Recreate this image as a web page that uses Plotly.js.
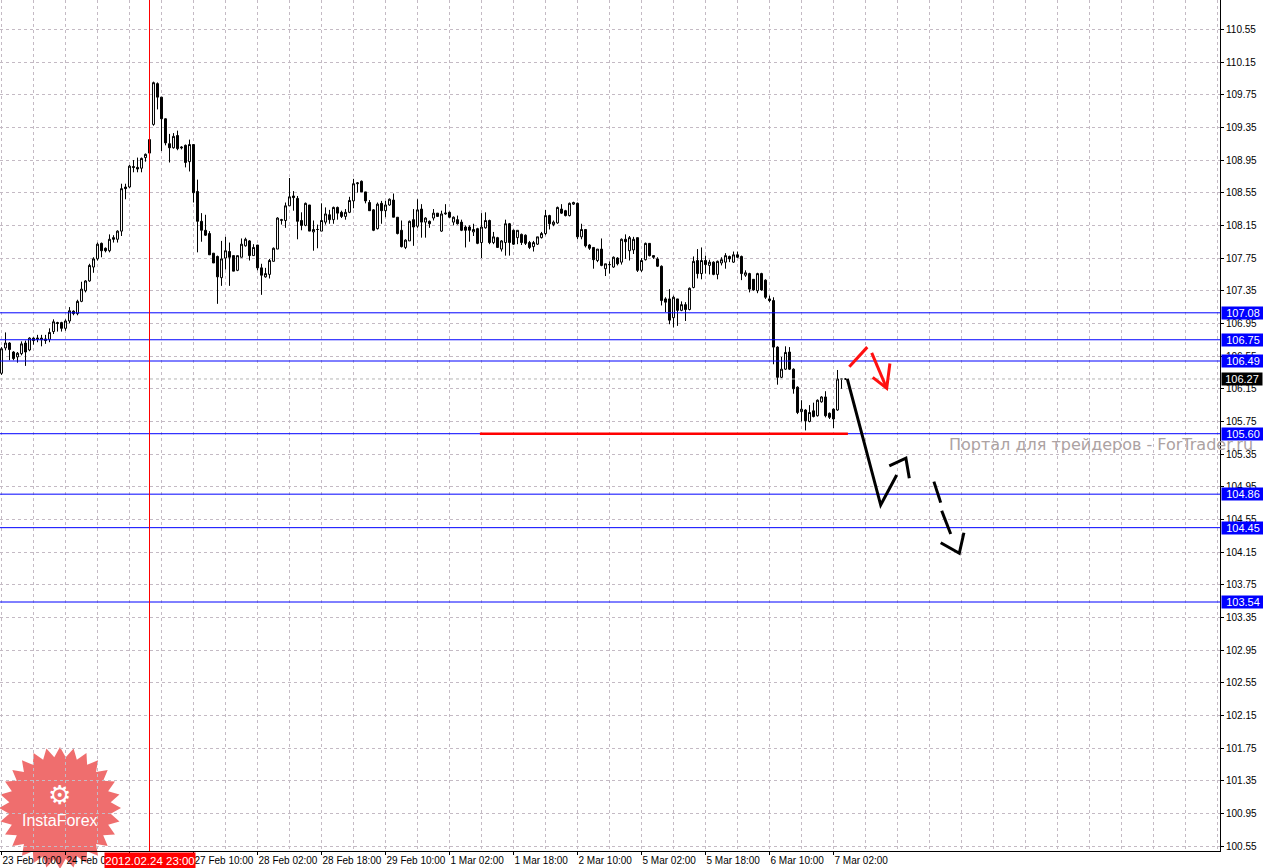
<!DOCTYPE html>
<html>
<head>
<meta charset="utf-8">
<script src="https://cdn.plot.ly/plotly-3.0.1.min.js"></script>
<style>
html,body{margin:0;padding:0;background:#fff;}
#chart{width:1263px;height:868px;}
</style>
</head>
<body>
<div id="chart"></div>
<script>
// ---- Hourly bars (H1), 23 Feb 10:00 .. 7 Mar 05:00 ----
const open = [
106.34,106.65,106.71,106.60,106.54,106.58,106.71,106.625,106.77,106.755,
106.77,106.76,106.755,106.85,106.96,106.96,106.89,106.98,107.10,107.07,
107.22,107.35,107.47,107.64,107.74,107.93,107.87,107.84,108.00,107.98,
108.08,108.62,108.62,108.87,108.86,108.85,108.98,109.20,109.386,109.885,
109.72,109.455,109.15,109.10,109.25,109.11,109.13,108.93,109.14,108.565,
108.20,108.09,108.05,107.81,107.77,107.51,107.75,107.83,107.78,107.60,
107.76,107.90,107.96,107.78,107.91,107.63,107.52,107.55,107.71,107.86,
108.21,108.21,108.39,108.51,108.48,108.21,108.15,108.40,108.07,108.10,
108.08,108.19,108.28,108.22,108.37,108.31,108.26,108.31,108.45,108.66,
108.69,108.56,108.43,108.34,108.11,108.42,108.33,108.40,108.46,108.25,
108.09,107.88,107.96,108.22,108.14,108.35,108.19,108.20,108.24,108.30,
108.08,108.29,108.31,108.19,108.22,108.19,108.13,108.13,108.07,108.11,
107.94,108.12,108.21,107.94,108.00,107.86,107.94,108.17,108.09,108.00,
108.04,108.03,107.94,107.89,107.92,108.00,108.05,108.27,108.16,108.18,
108.35,108.33,108.27,108.41,108.42,108.01,108.10,107.91,107.88,107.72,
107.86,107.62,107.67,107.64,107.75,107.70,107.98,107.84,107.85,108.00,
107.60,107.73,107.93,107.78,107.74,107.65,107.25,107.25,107.02,107.25,
107.11,107.18,107.12,107.39,107.72,107.56,107.72,107.66,107.70,107.55,
107.69,107.70,107.77,107.70,107.79,107.77,107.54,107.56,107.49,107.35,
107.56,107.48,107.25,107.23,106.66,106.29,106.39,106.60,106.39,106.17,
105.87,105.89,105.75,105.88,105.82,105.99,106.05,105.85,105.90,105.89,
106.27,106.27
];
const high = [
106.66,106.84,106.72,106.61,106.60,106.73,106.74,106.78,106.78,106.81,
106.81,106.81,106.89,107.00,106.97,106.97,107.00,107.15,107.11,107.24,
107.46,107.48,107.68,107.76,107.94,107.94,107.88,108.04,108.03,108.09,
108.66,108.66,108.89,108.95,108.98,108.98,109.03,109.21,109.91,109.90,
109.72,109.46,109.27,109.28,109.31,109.12,109.14,109.20,109.14,108.71,
108.30,108.28,108.08,107.81,107.78,107.96,108.01,107.94,107.78,107.78,
107.99,108.00,107.97,107.92,107.91,107.68,107.63,107.74,107.88,108.25,
108.23,108.43,108.73,108.57,108.51,108.31,108.43,108.40,108.21,108.16,
108.42,108.37,108.34,108.38,108.38,108.33,108.35,108.50,108.72,108.68,
108.70,108.56,108.46,108.35,108.43,108.45,108.45,108.48,108.54,108.25,
108.21,107.98,108.21,108.35,108.47,108.41,108.25,108.21,108.35,108.30,
108.33,108.41,108.32,108.26,108.27,108.22,108.15,108.15,108.17,108.12,
108.30,108.31,108.22,108.07,108.01,107.97,108.22,108.18,108.10,108.09,
108.05,108.04,107.96,107.96,108.01,108.07,108.34,108.28,108.21,108.38,
108.41,108.34,108.43,108.44,108.43,108.17,108.10,107.92,107.88,107.86,
107.99,107.68,107.71,107.77,107.76,107.99,108.04,108.02,108.01,108.00,
107.75,107.94,107.93,107.78,107.76,107.66,107.27,107.37,107.29,107.25,
107.22,107.21,107.39,107.77,107.86,107.88,107.78,107.73,107.71,107.72,
107.76,107.81,107.78,107.83,107.83,107.78,107.60,107.57,107.49,107.57,
107.57,107.49,107.29,107.27,106.67,106.54,106.67,106.66,106.40,106.18,
106.01,105.90,105.95,105.98,106.02,106.06,106.12,105.86,105.91,106.38,
106.28,106.28
];
const low = [
106.32,106.62,106.50,106.50,106.47,106.56,106.43,106.61,106.69,106.72,
106.67,106.70,106.72,106.82,106.85,106.85,106.86,106.95,107.05,107.05,
107.21,107.33,107.46,107.57,107.72,107.76,107.82,107.82,107.94,107.94,
108.02,108.47,108.61,108.80,108.80,108.80,108.93,109.03,109.37,109.57,
109.06,109.13,108.92,109.09,109.07,109.08,108.86,108.81,108.43,107.82,
107.95,108.02,107.79,107.69,107.19,107.41,107.61,107.41,107.59,107.59,
107.76,107.89,107.72,107.78,107.60,107.30,107.51,107.50,107.71,107.86,
108.16,108.12,108.39,108.33,107.98,108.09,108.14,108.08,107.84,107.87,
108.08,108.16,108.17,108.17,108.22,108.24,108.22,108.30,108.36,108.55,
108.56,108.42,108.33,108.08,108.10,108.17,108.25,108.39,108.25,108.04,
107.88,107.86,107.96,107.90,108.12,108.00,108.00,108.12,108.21,108.26,
108.07,108.28,108.24,108.15,108.16,108.08,107.88,107.95,108.02,107.92,
107.75,108.11,107.92,107.92,107.88,107.83,107.78,107.78,107.91,107.92,
107.91,107.91,107.86,107.83,107.91,107.99,108.03,108.10,108.14,108.17,
108.29,108.26,108.26,108.40,107.98,107.98,107.88,107.85,107.62,107.70,
107.65,107.53,107.56,107.63,107.66,107.67,107.74,107.72,107.80,107.58,
107.58,107.72,107.77,107.74,107.64,107.17,107.09,106.94,106.90,106.92,
107.10,106.98,107.11,107.38,107.50,107.49,107.56,107.55,107.54,107.49,
107.66,107.62,107.70,107.69,107.75,107.48,107.52,107.33,107.35,107.32,
107.35,107.25,107.21,106.45,106.20,106.28,106.38,106.38,106.09,105.84,
105.75,105.64,105.74,105.80,105.81,105.98,105.80,105.78,105.67,105.88,
106.15,106.26
];
const close = [
106.64,106.71,106.63,106.52,106.585,106.70,106.60,106.77,106.74,106.77,
106.75,106.74,106.84,106.97,106.95,106.89,106.98,107.105,107.07,107.22,
107.37,107.47,107.66,107.74,107.92,107.84,107.84,107.98,107.98,108.08,
108.60,108.60,108.875,108.86,108.84,108.97,109.02,109.035,109.897,109.72,
109.455,109.16,109.10,109.24,109.09,109.10,108.92,109.14,108.55,108.20,
108.09,108.03,107.79,107.69,107.52,107.74,107.84,107.76,107.59,107.78,
107.92,107.98,107.78,107.88,107.63,107.54,107.56,107.72,107.87,108.24,
108.22,108.39,108.50,108.49,108.20,108.15,108.42,108.08,108.10,108.10,
108.21,108.29,108.22,108.37,108.30,108.26,108.31,108.455,108.66,108.67,
108.56,108.45,108.33,108.09,108.41,108.33,108.40,108.47,108.25,108.05,
107.89,107.97,108.20,108.13,108.34,108.19,108.24,108.17,108.30,108.26,
108.29,108.30,108.25,108.25,108.17,108.09,108.09,108.09,108.10,107.93,
108.13,108.21,107.94,108.01,107.88,107.96,108.17,107.94,107.92,108.09,
107.94,107.93,107.88,107.94,108.01,108.05,108.27,108.17,108.19,108.37,
108.30,108.27,108.42,108.43,108.01,108.10,107.90,107.87,107.73,107.86,
107.66,107.68,107.67,107.76,107.68,107.98,107.95,108.00,107.98,107.60,
107.72,107.93,107.78,107.76,107.65,107.23,107.21,106.99,107.27,107.11,
107.18,107.12,107.38,107.71,107.56,107.72,107.67,107.70,107.55,107.71,
107.73,107.78,107.74,107.79,107.76,107.56,107.57,107.37,107.36,107.56,
107.36,107.27,107.23,106.66,106.29,106.39,106.595,106.39,106.15,105.86,
105.90,105.76,105.86,105.81,106.01,106.05,105.82,105.80,105.78,106.27,
106.27,106.27
];

// time-axis labels (every 16 bars)
const tickBars   = [0,16,32,48,64,80,96,112,128,144,160,176,192,208];
const tickLabels = ['23 Feb 10:00','24 Feb 02:00','24 Feb 18:00','27 Feb 10:00','28 Feb 02:00',
  '28 Feb 18:00','29 Feb 10:00','1 Mar 02:00','1 Mar 18:00','2 Mar 10:00','5 Mar 02:00',
  '5 Mar 18:00','6 Mar 10:00','7 Mar 02:00'];

// horizontal levels
const levels = [107.08, 106.75, 106.49, 105.60, 104.86, 104.45, 103.54];
const bidPrice = 106.27;
const supportLevel = 105.60;
const supportFromBar = 119.6, supportToBar = 211.6;
const crosshairBar = 37;
const crosshairLabel = '2012.02.24 23:00';

// hand-drawn forecast arrows (bar index, price)
const blackShaft = [[211.45,106.27],[219.8,104.727],[223.8,105.095]];
const blackHead  = [[221.95,105.205],[226.1,105.30],[226.95,105.055]];
const dashPart1  = [[233.1,105.013],[234.8,104.756]];
const dashPart2  = [[235.05,104.658],[237.3,104.373]];
const dashHead   = [[234.8,104.266],[239.45,104.136],[240.6,104.388]];
const redPart1   = [[211.95,106.42],[216.45,106.66]];
const redPart2   = [[217.55,106.59],[221.3,106.156]];
const redHead    = [[217.8,106.29],[221.3,106.156],[222.1,106.46]];

const bars = open.map((_, i) => i);

const PLOT_W = 1220, PLOT_H = 851;
function path(pts){ return pts.map((p,i)=>(i?'L':'M')+p[0]+','+p[1]).join(' '); }
function starPath(cx, cy, rOut, rIn, n){
  let d='';
  for(let i=0;i<2*n;i++){
    const r = i%2 ? rIn : rOut;
    const a = Math.PI*i/n - Math.PI/2;
    const x = (cx + r*Math.cos(a))/PLOT_W;
    const y = (PLOT_H - (cy + r*Math.sin(a)))/PLOT_H;
    d += (i?'L':'M') + x.toFixed(5) + ',' + y.toFixed(5);
  }
  return d+'Z';
}

const trace = {
  type:'candlestick', x:bars, open:open, high:high, low:low, close:close,
  increasing:{line:{color:'#000000', width:1}, fillcolor:'#ffffff'},
  decreasing:{line:{color:'#000000', width:1}, fillcolor:'#000000'},
  whiskerwidth:0, hoverinfo:'skip', showlegend:false
};

const gridColor = 'rgb(196,186,196)';
const gridDash = '3px,3px';
const FONT = 'Liberation Sans, Arial, sans-serif';

const shapes = [];
shapes.push({type:'path', xref:'paper', yref:'paper', layer:'below',
  path: starPath(60, 808, 61, 51, 28), fillcolor:'rgba(232,42,42,0.68)', line:{width:0}});
levels.forEach(lv => shapes.push({type:'line', xref:'paper', x0:0, x1:1, yref:'y', y0:lv, y1:lv,
  line:{color:'#0000ff', width:1}}));
shapes.push({type:'line', xref:'paper', x0:0, x1:1, yref:'y', y0:bidPrice, y1:bidPrice,
  line:{color:'rgb(180,180,180)', width:1, dash:'3px,3px'}});
shapes.push({type:'line', xref:'x', x0:supportFromBar, x1:supportToBar, yref:'y', y0:supportLevel, y1:supportLevel,
  line:{color:'#ff0000', width:2.5}});
shapes.push({type:'line', xref:'x', x0:crosshairBar, x1:crosshairBar, yref:'paper', y0:0, y1:1,
  line:{color:'#ff0000', width:1}});
[blackShaft, blackHead, dashPart1, dashPart2, dashHead].forEach(p => shapes.push({type:'path', xref:'x', yref:'y',
  path:path(p), line:{color:'#000000', width:3}}));
[redPart1, redPart2, redHead].forEach(p => shapes.push({type:'path', xref:'x', yref:'y',
  path:path(p), line:{color:'#ff1010', width:3}}));

const annotations = [];
annotations.push({xref:'paper', yref:'paper', x:947/PLOT_W, y:(PLOT_H-444)/PLOT_H, xanchor:'left', yanchor:'middle',
  text:'Портал для трейдеров - ForTrader.ru', showarrow:false,
  font:{family:'DejaVu Sans, sans-serif', size:16, color:'rgb(172,162,162)'}});
annotations.push({xref:'paper', yref:'paper', x:59/PLOT_W, y:(PLOT_H-795)/PLOT_H, xanchor:'center', yanchor:'middle',
  text:'⚙', showarrow:false, font:{family:'DejaVu Sans, sans-serif', size:26, color:'#ffffff'}});
annotations.push({xref:'paper', yref:'paper', x:60/PLOT_W, y:(PLOT_H-820)/PLOT_H, xanchor:'center', yanchor:'middle',
  text:'InstaForex', showarrow:false, font:{family:FONT, size:16, color:'#ffffff'}});
levels.forEach(lv => annotations.push({xref:'paper', yref:'y', x:1, y:lv, xanchor:'left', yanchor:'middle', xshift:1,
  text:lv.toFixed(2), showarrow:false, bgcolor:'#0000ff', width:42, height:12, borderpad:0,
  font:{family:FONT, size:11, color:'#ffffff'}}));
annotations.push({xref:'paper', yref:'y', x:1, y:bidPrice, xanchor:'left', yanchor:'middle', xshift:1,
  text:bidPrice.toFixed(2), showarrow:false, bgcolor:'#000000', width:40, height:12, borderpad:0,
  font:{family:FONT, size:11, color:'#ffffff'}});
annotations.push({xref:'x', yref:'paper', x:crosshairBar, y:0, xanchor:'center', yanchor:'top', yshift:-1,
  text:crosshairLabel, showarrow:false, bgcolor:'#ff0000', width:90, height:15, borderpad:0,
  font:{family:FONT, size:11.5, color:'#ffffff'}});

const layout = {
  width:1263, height:868,
  margin:{l:0, r:43, t:0, b:17},
  paper_bgcolor:'#ffffff', plot_bgcolor:'rgba(0,0,0,0)',
  showlegend:false, dragmode:false,
  xaxis:{
    range:[-0.375, 304.625], rangeslider:{visible:false},
    tickmode:'array', tickvals:tickBars, ticktext:tickLabels,
    tickangle:0, automargin:false,
    ticks:'outside', ticklen:3, tickcolor:'#000', tickwidth:1,
    ticklabelposition:'outside right', ticklabelstandoff:0,
    tickfont:{family:FONT, size:10, color:'#000000'},
    showline:true, linecolor:'#000000', linewidth:1,
    showgrid:true, gridcolor:gridColor, griddash:gridDash, gridwidth:1,
    minor:{tickmode:'linear', tick0:0, dtick:8, showgrid:true, gridcolor:gridColor, griddash:gridDash, gridwidth:1, ticks:''},
    zeroline:false, fixedrange:true
  },
  yaxis:{
    side:'right', range:[100.492, 110.909], automargin:false,
    tickmode:'linear', tick0:100.55, dtick:0.4, tickformat:'.2f',
    ticks:'outside', ticklen:3, tickcolor:'#000', tickwidth:1,
    tickfont:{family:FONT, size:10, color:'#000000'},
    showline:true, linecolor:'#000000', linewidth:1,
    showgrid:true, gridcolor:gridColor, griddash:gridDash, gridwidth:1,
    zeroline:false, fixedrange:true
  },
  shapes:shapes,
  annotations:annotations
};

Plotly.newPlot('chart', [trace], layout, {staticPlot:true, displayModeBar:false});
</script>
</body>
</html>
